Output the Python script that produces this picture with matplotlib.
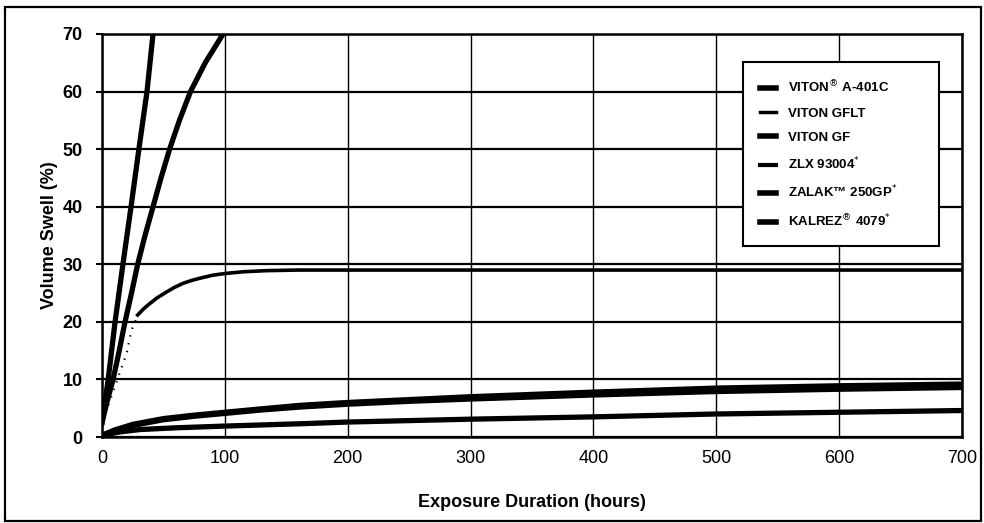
# Volume swell vs exposure duration - elastomer comparison
import matplotlib.pyplot as plt
from matplotlib.patches import Rectangle

plt.rcParams['font.family'] = ['Liberation Sans', 'DejaVu Sans']

# curves (hours, % swell)
zlx_t = [0, 5, 10.6, 17, 23.6, 30, 36.6, 41.5]
zlx_v = [2.5, 10, 20, 30, 40, 50, 60, 70]

a401_t = [0, 4.5, 9, 14, 18.7, 24, 29, 35, 41.5, 48, 55, 63, 72, 84, 98.5]
a401_v = [2.5, 6.5, 10, 15, 20, 25, 30, 35, 40, 45, 50, 55, 60, 65, 70]

gflt_dot_t = [0, 5, 10, 15, 20, 24, 28]
gflt_dot_v = [3, 5.5, 8.5, 11.5, 14.5, 18.6, 20.5]
gflt_t = [29, 34, 39, 45, 52.6, 59, 66, 73, 80, 90, 100, 115, 134, 160, 188, 300, 400, 500, 600, 700]
gflt_v = [21.2, 22.3, 23.2, 24.2, 25.2, 26.0, 26.7, 27.2, 27.6, 28.1, 28.4, 28.7, 28.9, 29.0, 29.0,
          29.0, 29.0, 29.0, 29.0, 29.0]

gf_t = [0, 10, 25, 50, 75, 100, 130, 161, 200, 250, 300, 400, 500, 600, 700]
gf_v = [0.3, 1.2, 2.2, 3.2, 3.8, 4.3, 4.9, 5.5, 6.0, 6.5, 7.0, 7.8, 8.5, 8.9, 9.2]

zalak_t = [0, 10, 25, 50, 75, 100, 130, 161, 200, 250, 300, 400, 500, 600, 700]
zalak_v = [0.3, 1.1, 2.0, 3.0, 3.6, 4.1, 4.7, 5.2, 5.7, 6.2, 6.6, 7.3, 7.9, 8.3, 8.6]

kalrez_t = [0, 15, 31, 60, 100, 161, 200, 300, 400, 500, 600, 700]
kalrez_v = [0.3, 0.9, 1.3, 1.6, 1.9, 2.3, 2.6, 3.1, 3.5, 4.0, 4.3, 4.6]

x_ticks = [0, 100, 200, 300, 400, 500, 600, 700]
y_ticks = [0, 10, 20, 30, 40, 50, 60, 70]

fig = plt.figure(figsize=(9.84, 5.23), dpi=100)
ax = fig.add_axes([0.1037, 0.1644, 0.8739, 0.7706])

lw = 3.8
ax.plot(a401_t, a401_v, color='black', lw=lw, label='VITON$^{\u00ae}$ A-401C')
ax.plot(gflt_dot_t, gflt_dot_v, color='black', lw=1.6, ls=(0, (0.6, 3)))
ax.plot(gflt_t, gflt_v, color='black', lw=2.6, label='VITON GFLT')
ax.plot(gf_t, gf_v, color='black', lw=lw, label='VITON GF')
ax.plot(zlx_t, zlx_v, color='black', lw=lw, label='ZLX 93004$^{*}$')
ax.plot(zalak_t, zalak_v, color='black', lw=lw, label='ZALAK\u2122 250GP$^{*}$')
ax.plot(kalrez_t, kalrez_v, color='black', lw=lw, label='KALREZ$^{\u00ae}$ 4079$^{*}$')

ax.set_xlim(0, 700)
ax.set_ylim(0, 70)
ax.set_xticks(x_ticks)
ax.set_yticks(y_ticks)
ax.tick_params(axis='x', length=0, pad=9, labelsize=13)
ax.tick_params(axis='y', length=4, width=1.5, pad=10, labelsize=13)
for lab in ax.get_yticklabels():
    lab.set_fontweight('bold')

ax.yaxis.grid(True, color='black', lw=1.6)
ax.xaxis.grid(True, color='black', lw=1.0)
ax.set_axisbelow(True)
for s in ax.spines.values():
    s.set_linewidth(1.8)

ax.set_xlabel('Exposure Duration (hours)', fontsize=13, fontweight='bold', labelpad=20)
ax.set_ylabel('Volume Swell (%)', fontsize=13, fontweight='bold', labelpad=3)

leg = ax.legend(loc='upper left', bbox_to_anchor=(0.745, 0.484, 0.228, 0.4465),
                mode='expand', borderaxespad=0, fancybox=False, edgecolor='black',
                framealpha=1, handlelength=1.2, handletextpad=0.9, labelspacing=0.9,
                borderpad=1.3, prop={'size': 9.5, 'weight': 'bold'})
leg.get_frame().set_linewidth(1.5)
for h in leg.get_lines():
    h.set_linewidth(4)
leg.get_lines()[1].set_linewidth(2.5)
leg.get_lines()[3].set_linewidth(3)

# outer frame around the whole figure
fig.patches.append(Rectangle((5 / 984, 2 / 523), 976 / 984, 514 / 523, transform=fig.transFigure,
                             fill=False, edgecolor='black', lw=1.6))

fig.savefig('out.png', dpi=100)
